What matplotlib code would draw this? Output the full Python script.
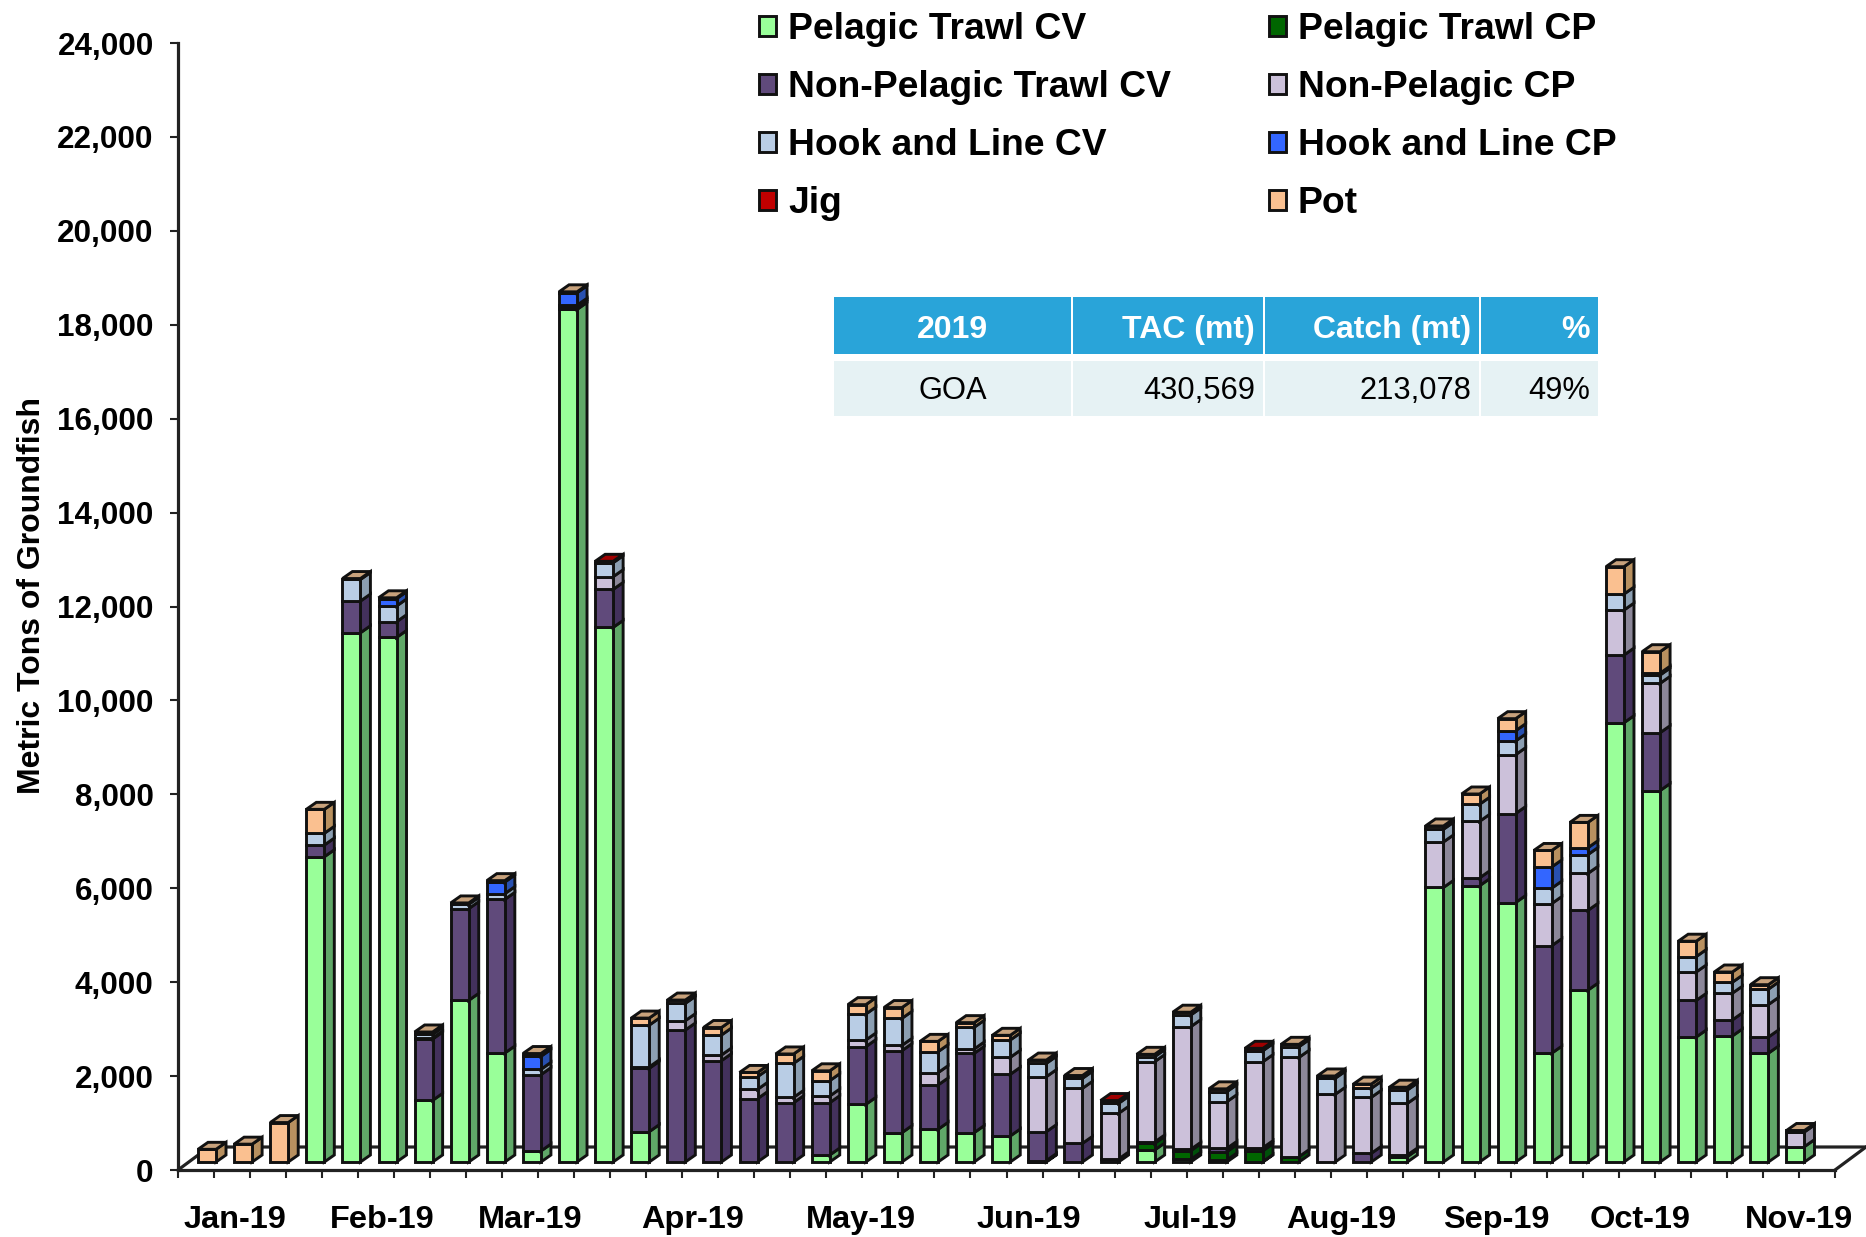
import matplotlib
matplotlib.use("Agg")
import matplotlib.pyplot as plt
from matplotlib.patches import Polygon, Patch, Rectangle
from matplotlib.lines import Line2D

plt.rcParams['font.family'] = ['Liberation Sans', 'DejaVu Sans']

# ---- data (metric tons per week) ----
pelagic_cv = [0,0,0,6500,11270,11170,1313,3443,2321,234,18156,11385,646,0,0,0,0,149,1228,625,696,625,554,10,0,0,256,57,43,10,0,0,0,114,5847,5883,5526,2318,3660,9355,7910,2661,2683,2318,328]
pelagic_cp = [0,0,0,0,0,0,0,0,0,0,0,0,0,0,0,0,0,0,0,0,0,0,0,20,0,0,141,184,177,231,114,0,0,0,0,0,0,0,0,0,0,0,0,0,0]
nonpel_cv  = [0,0,0,250,675,335,1306,1952,3272,1626,50,809,1349,2811,2158,1349,1263,1114,1228,1746,944,1689,1313,616,397,64,29,29,71,64,0,0,185,35,0,167,1895,2289,1698,1441,1232,780,342,343,0]
nonpel_cp  = [0,0,0,0,0,0,20,0,0,0,0,270,30,199,120,198,114,142,142,113,262,92,362,1171,1172,972,1711,2612,994,1832,2115,1441,1192,1100,969,1204,1254,897,787,958,1051,605,569,692,313]
hook_cv    = [0,0,0,250,460,335,80,92,121,113,40,298,890,369,426,270,724,327,553,575,447,462,369,284,213,213,106,248,213,234,227,341,192,284,270,364,292,328,401,341,177,328,233,328,0]
hook_cp    = [0,0,0,0,0,155,0,0,248,277,265,0,0,0,0,0,0,0,0,0,0,0,0,0,0,0,0,0,0,0,0,0,0,0,0,0,218,452,146,0,40,0,0,0,0]
jig        = [0,0,0,0,0,0,0,0,0,0,0,30,0,0,0,0,0,0,0,0,0,0,0,0,0,60,0,0,0,50,0,0,0,0,0,0,0,0,0,0,0,0,0,0,0]
pot        = [270,380,840,510,20,20,50,30,30,60,20,0,150,70,160,90,200,210,200,230,220,100,100,70,60,0,50,60,60,0,50,50,90,60,70,219,256,350,540,582,457,328,219,95,30]

series_names = ['Pelagic Trawl CV','Pelagic Trawl CP','Non-Pelagic Trawl CV','Non-Pelagic CP',
                'Hook and Line CV','Hook and Line CP','Jig','Pot']
series = [pelagic_cv,pelagic_cp,nonpel_cv,nonpel_cp,hook_cv,hook_cp,jig,pot]
face  = ['#99FF99','#006600','#604A7B','#CCC1DA','#B9CDE5','#3366FF','#C00000','#FAC090']
side  = ['#60A868','#00500A','#43315C','#8C8799','#8C9FB2','#2850B0','#8A0000','#B8905F']
top   = ['#70C070','#004000','#4C3A62','#A39BAE','#94A4B8','#2850C0','#A00000','#C8A27C']

month_labels = ['Jan-19','Feb-19','Mar-19','Apr-19','May-19','Jun-19','Jul-19','Aug-19','Sep-19','Oct-19','Nov-19']
month_pos = [1.58,5.66,9.77,14.3,18.96,23.63,28.1,32.3,36.6,40.6,45.0]
n_slots = 46

table_cols = ['2019','TAC (mt)','Catch (mt)','%']
table_row  = ['GOA','430,569','213,078','49%']

# ---- figure ----
W, H = 1866, 1237
fig = plt.figure(figsize=(W/100, H/100), dpi=100)
L, R, T, B = 178, 1835, 43, 1170
ax = fig.add_axes([L/W, 1-B/H, (R-L)/W, (B-T)/H])
ax.set_xlim(0, n_slots); ax.set_ylim(0, 24000)
for s in ['top','right']:
    ax.spines[s].set_visible(False)
for s in ['left','bottom']:
    ax.spines[s].set_linewidth(2.3); ax.spines[s].set_color('#222222')
ppx = n_slots/(R-L)            # data x per pixel
ppy = 24000/(B-T)              # data y per pixel

# floor
fx, fy = 31*ppx, 23*ppy
ax.add_line(Line2D([0, fx, (1866-L)*ppx],[0, fy, fy], color='#222222', lw=2.3, clip_on=False, zorder=1))
ax.add_line(Line2D([(1866-L)*ppx, n_slots],[fy, 0], color='#222222', lw=2.3, clip_on=False, zorder=1))

# bars
bw = 18*ppx; dx = 10*ppx; dy = 7*ppy; base = 8*ppy
ekw = dict(edgecolor='#111111', linewidth=2.1, joinstyle='miter', clip_on=False, zorder=3)
for i in range(len(pot)):
    x0 = (i + 0.5) + (11.0 + 0.08*i)*ppx - bw/2
    x1 = x0 + bw
    y = base
    last = None
    for k, vals in enumerate(series):
        v = vals[i]
        if v <= 0:
            continue
        y2 = y + v
        ax.add_patch(Polygon([(x1,y),(x1+dx,y+dy),(x1+dx,y2+dy),(x1,y2)], facecolor=side[k], **ekw))
        ax.add_patch(Polygon([(x0,y),(x1,y),(x1,y2),(x0,y2)], facecolor=face[k], **ekw))
        y = y2; last = k
    ax.add_patch(Polygon([(x0,y),(x1,y),(x1+dx,y+dy),(x0+dx,y+dy)], facecolor=top[last], **ekw))

# ticks
ax.set_yticks(range(0, 24001, 2000))
ax.set_yticklabels([f'{v:,}' for v in range(0, 24001, 2000)], fontsize=22.6, fontweight='bold')
ax.tick_params(axis='y', length=6, width=1.5, pad=11.5, color='#222222')
ax.xaxis.remove_overlapping_locs = False
ax.set_xticks(range(0, n_slots+1))
ax.set_xticklabels([])
ax.tick_params(axis='x', which='major', length=6, width=1.5, color='#222222')
ax.set_xticks(month_pos, minor=True)
ax.set_xticklabels(month_labels, minor=True, fontsize=23.4, fontweight='bold')
ax.tick_params(axis='x', which='minor', length=0, pad=25)
fig.text(32/W, 1-595/H, 'Metric Tons of Groundfish', rotation=90, ha='center', va='center',
         fontsize=23, fontweight='bold')

# legend
order = [0,2,4,6,1,3,5,7]
handles = [Patch(facecolor=face[k], edgecolor='#111111', linewidth=2.1) for k in order]
labels = [series_names[k] for k in order]
leg = fig.legend(handles, labels, ncols=2, loc='upper left', bbox_to_anchor=(759/W, 1-12/H),
                 frameon=False, prop={'size':26.8,'weight':'bold'}, handlelength=0.46, handleheight=0.46,
                 handletextpad=0.32, columnspacing=2.62, labelspacing=0.62, borderpad=0, borderaxespad=0)

# summary table
col_edges = [833,1072,1264,1480,1599]
rows = [(297,354,'#29A4D9','white','bold',table_cols,23,1),(361,416,'#E6F2F4','black','normal',table_row,22.2,-1)]
for y0,y1,c,tc,wt,cells,fs,nudge in rows:
    for j,txt in enumerate(cells):
        a,b = col_edges[j], col_edges[j+1]
        fig.add_artist(Rectangle((a/W+1/W,1-y1/H),(b-a-2)/W,(y1-y0)/H,transform=fig.transFigure,facecolor=c,edgecolor='none'))
        ty = 1-((y0+y1)/2+nudge)/H
        if j==0:
            fig.text((a+b)/2/W,ty,txt,ha='center',va='center_baseline',color=tc,fontsize=fs,fontweight=wt)
        else:
            fig.text((b-9)/W,ty,txt,ha='right',va='center_baseline',color=tc,fontsize=fs,fontweight=wt)

fig.savefig('out.png', dpi=100, facecolor='white')
